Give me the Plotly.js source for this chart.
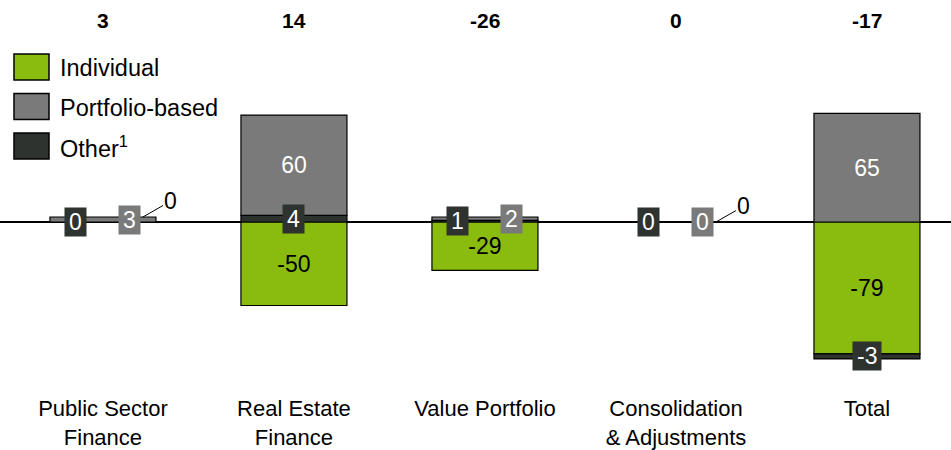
<!DOCTYPE html>
<html><head><meta charset="utf-8">
<script src="https://cdn.plot.ly/plotly-3.0.1.min.js"></script>
<style>html,body{margin:0;padding:0;background:#fff}#chart{width:951px;height:450px}</style>
</head><body><div id="chart"></div>
<script>
// ---- data ----
const categories = ['Public Sector Finance', 'Real Estate Finance', 'Value Portfolio', 'Consolidation & Adjustments', 'Total'];
const tickLabels = ['Public Sector<br>Finance', 'Real Estate<br>Finance', 'Value Portfolio', 'Consolidation<br>& Adjustments', 'Total'];
const seriesNames = ['Individual', 'Portfolio-based', 'Other<sup>1</sup>'];
const individual = [0, -50, -29, 0, -79];
const portfolio = [3, 60, 2, 0, 65];
const other = [0, 4, 1, 0, -3];

// ---- styles ----
const FONT = '"Liberation Sans", Arial, sans-serif';
const GREEN = '#8ABB0F', GRAY = '#7A7A7A', DARK = '#2E332F';
const W = 951, H = 450, MT = 40, MB = 57;
const PH = H - MT - MB;
const FS = 23, FS_LEG = 23.5, FS_TICK = 22;
const px2x = p => p / W;
const py2y = p => (H - MB - p) / PH;

const ctx = document.createElement('canvas').getContext('2d');
ctx.font = FS + 'px "Liberation Sans"';
const tw = t => ctx.measureText(t).width;

// stacking order as drawn: Individual, Other, Portfolio
const stack = [
  {name: seriesNames[0], vals: individual, color: GREEN, txt: '#000'},
  {name: seriesNames[2], vals: other, color: DARK, txt: '#fff'},
  {name: seriesNames[1], vals: portfolio, color: GRAY, txt: '#fff'}
];
const pos = categories.map(() => 0), neg = categories.map(() => 0);
stack.forEach(s => {
  s.mid = s.vals.map((v, i) => {
    if (v < 0) { const b = neg[i]; neg[i] += v; return b + v / 2; }
    const b = pos[i]; pos[i] += v; return b + v / 2;
  });
});

const traces = stack.map(s => ({
  type: 'bar', name: s.name, x: categories, y: s.vals, width: 0.555,
  marker: {color: s.color, line: {color: '#000', width: 1.2}},
  text: s.vals.map(v => Math.abs(v) >= 10 ? String(v) : ''),
  textposition: s.vals.map(v => Math.abs(v) >= 10 ? 'inside' : 'none'),
  insidetextanchor: 'middle', textangle: 0,
  insidetextfont: {family: FONT, size: FS, color: s.txt},
  hoverinfo: 'skip'
}));

const annotations = [];
// totals on top
categories.forEach((c, i) => {
  const sum = individual[i] + portfolio[i] + other[i];
  annotations.push({x: c, xref: 'x', y: py2y(20), yref: 'paper', yanchor: 'middle',
    text: '<b>' + sum + '</b>', showarrow: false, font: {family: FONT, size: 21, color: '#000'}});
});
// small segment boxes (Other, Portfolio)
const oth = stack[1], por = stack[2], ind = stack[0];
categories.forEach((c, i) => {
  const oSmall = Math.abs(oth.vals[i]) < 10, pSmall = Math.abs(por.vals[i]) < 10;
  const both = oSmall && pSmall;
  [[oth, oSmall, both ? -27 : 0], [por, pSmall, both ? 27 : 0]].forEach(([s, small, dx]) => {
    if (!small) return;
    const t = String(s.vals[i]);
    annotations.push({x: c, xref: 'x', y: s.mid[i], yref: 'y', xshift: dx, text: t, showarrow: false,
      bgcolor: s.color, font: {family: FONT, size: FS, color: '#fff'},
      width: tw(t) + 6, height: 26, borderpad: 1});
  });
  if (Math.abs(ind.vals[i]) < 10) {
    annotations.push({x: c, xref: 'x', y: pos[i], yref: 'y', xshift: 40, text: String(ind.vals[i]),
      showarrow: true, arrowhead: 0, arrowwidth: 1, arrowcolor: '#000', ax: 28, ay: -16, standoff: 0,
      font: {family: FONT, size: FS, color: '#000'}});
  }
});

// legend (custom, large swatches)
const legendItems = [[seriesNames[0], GREEN], [seriesNames[1], GRAY], [seriesNames[2], DARK]];
const shapes = [];
legendItems.forEach(([n, col], k) => {
  const cy = 67 + k * 39.5;
  shapes.push({type: 'rect', xref: 'paper', yref: 'paper', x0: px2x(14), x1: px2x(49),
    y0: py2y(cy - 13), y1: py2y(cy + 13), fillcolor: col, line: {color: '#000', width: 1.5}});
  annotations.push({xref: 'paper', yref: 'paper', x: px2x(58), y: py2y(cy + 1), xanchor: 'left', yanchor: 'middle',
    text: n, showarrow: false, font: {family: FONT, size: FS_LEG, color: '#000'}});
});

const layout = {
  width: W, height: H, margin: {l: 0, r: 0, t: MT, b: MB, pad: 0},
  paper_bgcolor: '#fff', plot_bgcolor: '#fff', barmode: 'relative', showlegend: false,
  font: {family: FONT, color: '#000'},
  xaxis: {type: 'category', range: [-0.539, 4.44], tickvals: categories, ticktext: tickLabels,
    showgrid: false, zeroline: false, showline: false, ticks: '', tickfont: {family: FONT, size: FS_TICK, color: '#000'}},
  yaxis: {range: [-(H - MB - 222) / 1.67, (222 - MT) / 1.67], showgrid: false, zeroline: true,
    zerolinecolor: '#000', zerolinewidth: 1.2, showticklabels: false, ticks: ''},
  annotations: annotations, shapes: shapes, hovermode: false
};
Plotly.newPlot('chart', traces, layout, {displayModeBar: false, staticPlot: true});
</script></body></html>
